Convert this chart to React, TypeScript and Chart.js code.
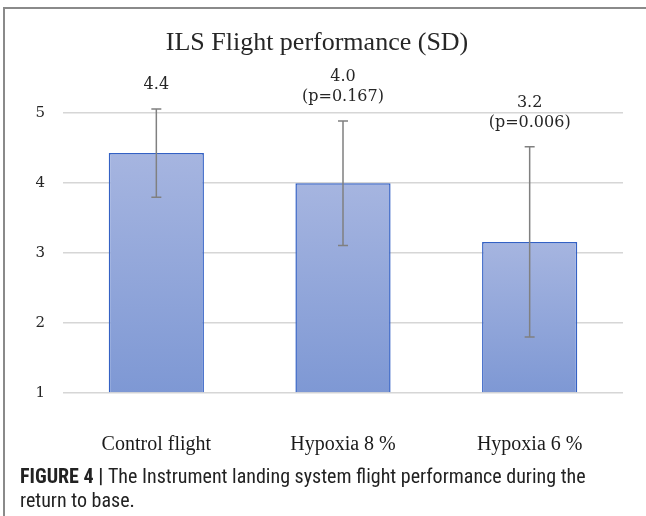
import React, { useEffect, useRef } from "react";
import { Chart, registerables } from "chart.js";

Chart.register(...registerables);

const categories = ["Control flight", "Hypoxia 8 %", "Hypoxia 6 %"];
const means = [4.43, 4.0, 3.16];
const sds = [0.63, 0.89, 1.36];
const valueLabels = ["4.4", "4.0", "3.2"];
const pLabels = ["", "(p=0.167)", "(p=0.006)"];
const yMin = 1;
const yMax = 5;
const yStep = 1;
const titleText = "ILS Flight performance (SD)";

const errorAndLabelPlugin = {
  id: "errorAndLabels",
  afterDatasetsDraw(chart: any) {
    const ctx = chart.ctx;
    const meta = chart.getDatasetMeta(0);
    const y = chart.scales.y;
    ctx.save();
    meta.data.forEach((bar: any, i: number) => {
      const x = bar.x;
      const top = y.getPixelForValue(means[i] + sds[i]);
      const bot = y.getPixelForValue(means[i] - sds[i]);
      ctx.strokeStyle = "#808080";
      ctx.lineWidth = 1.5;
      ctx.beginPath();
      ctx.moveTo(x, top);
      ctx.lineTo(x, bot);
      ctx.moveTo(x - 5, top);
      ctx.lineTo(x + 5, top);
      ctx.moveTo(x - 5, bot);
      ctx.lineTo(x + 5, bot);
      ctx.stroke();

      const lines = [valueLabels[i], pLabels[i]].filter((s) => s);
      ctx.fillStyle = "#262626";
      ctx.font = "16px 'DejaVu Serif'";
      ctx.textAlign = "center";
      ctx.textBaseline = "middle";
      const lastY = top - 24;
      lines.forEach((t, k) => {
        const ly = lastY - (lines.length - 1 - k) * 20;
        ctx.fillText(t, x, ly);
      });
    });
    ctx.restore();
  },
};

export default function App() {
  const ref = useRef<HTMLCanvasElement | null>(null);

  useEffect(() => {
    if (!ref.current) return;
    const chart = new Chart(ref.current, {
      type: "bar",
      data: {
        labels: categories,
        datasets: [
          {
            data: means,
            base: yMin,
            barPercentage: 0.51,
            categoryPercentage: 1.0,
            borderColor: "#3461c4",
            borderWidth: 1.5,
            backgroundColor: (c: any) => {
              const chart = c.chart;
              const area = chart.chartArea;
              if (!area || c.type !== "data") return "#93a6d9";
              const top = chart.scales.y.getPixelForValue(c.raw);
              const g = chart.ctx.createLinearGradient(0, top, 0, area.bottom);
              g.addColorStop(0, "#a6b5e0");
              g.addColorStop(1, "#7e98d4");
              return g;
            },
          } as any,
        ],
      },
      options: {
        responsive: false,
        animation: false,
        layout: { padding: { left: 11, right: 23, top: 0, bottom: 43 } },
        plugins: {
          legend: { display: false },
          tooltip: { enabled: false },
          title: {
            display: true,
            text: titleText,
            color: "#262626",
            font: { family: "'Liberation Serif'", size: 26, weight: "normal" },
            padding: { top: 28, bottom: 54 },
          },
        },
        scales: {
          x: {
            grid: { display: false, drawTicks: false },
            border: { display: false },
            ticks: {
              color: "#1a1a1a",
              padding: 40,
              font: { family: "'Liberation Serif'", size: 20 },
            },
            afterFit: (s: any) => {
              s.height = 80;
            },
          },
          y: {
            min: yMin,
            max: yMax,
            grid: { color: "#d6d6d6", lineWidth: 1.5, drawTicks: false },
            border: { display: false },
            ticks: {
              stepSize: yStep,
              color: "#262626",
              padding: 18,
              font: { family: "'DejaVu Serif'", size: 15 },
            },
            afterFit: (s: any) => {
              s.width = 52;
            },
          },
        },
      },
      plugins: [errorAndLabelPlugin],
    });
    return () => chart.destroy();
  }, []);

  return (
    <div
      style={{
        position: "absolute",
        left: 0,
        top: 0,
        width: 646,
        height: 516,
        background: "#fff",
        overflow: "hidden",
      }}
    >
      <canvas ref={ref} width={646} height={516} style={{ display: "block", width: 646, height: 516 }} />
      <div style={{ position: "absolute", left: 3, top: 7, width: 1.5, height: 509, background: "#8a8a8a" }} />
      <div style={{ position: "absolute", left: 3, top: 7, width: 643, height: 1.5, background: "#8a8a8a" }} />
      <div
        style={{
          position: "absolute",
          left: 20,
          top: 464,
          fontFamily: "'Liberation Sans Narrow', 'Roboto Condensed', 'Liberation Sans', Arial, sans-serif",
          fontSize: 20,
          lineHeight: "24px",
          color: "#222",
          whiteSpace: "nowrap",
        }}
      >
        <span style={{ fontWeight: "bold" }}>FIGURE 4 | </span>
        The Instrument landing system flight performance during the
        <br />
        return to base.
      </div>
    </div>
  );
}
